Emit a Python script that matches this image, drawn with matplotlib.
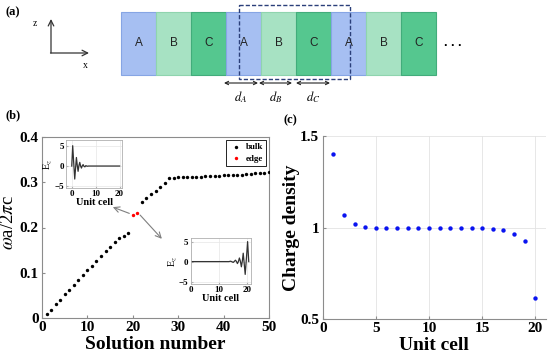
import matplotlib
matplotlib.use("Agg")
import matplotlib.pyplot as plt
from matplotlib.patches import Rectangle

plt.rcParams['font.family'] = ['Liberation Serif', 'DejaVu Serif']
plt.rcParams['mathtext.fontset'] = 'stix'

# ---------------- data ----------------
layers = ['A', 'B', 'C', 'A', 'B', 'C', 'A', 'B', 'C']
layer_colors = {'A': '#a6bff2', 'B': '#a7e2c3', 'C': '#55c78f'}
layer_edges = {'A': '#86a5e4', 'B': '#8fd4ae', 'C': '#42ac7b'}

bulk_n = list(range(1, 20)) + list(range(22, 51))
bulk_w = [0.009, 0.018, 0.030, 0.040, 0.052, 0.062, 0.074, 0.083, 0.095, 0.105,
          0.116, 0.127, 0.137, 0.147, 0.157, 0.167, 0.176, 0.182, 0.187,
          0.257, 0.265, 0.273, 0.281, 0.289, 0.299, 0.309,
          0.310, 0.3105, 0.311, 0.3113, 0.3116, 0.312, 0.3125, 0.313, 0.3135, 0.314,
          0.3145, 0.315, 0.3155, 0.316, 0.3165, 0.317, 0.3178, 0.3185, 0.3195,
          0.3205, 0.3215, 0.3225]
edge_n = [20, 21]
edge_w = [0.227, 0.233]

field1_x = [0, 0.4, 0.8, 1.25, 1.6, 1.95, 2.3, 2.65, 3.0, 3.35, 3.7, 4.05, 4.4,
            4.75, 5.1, 5.5, 5.9, 6.4, 7.0, 20]
field1_y = [0, 5.0, 1.0, -3.2, -0.5, 2.1, 0.2, -1.3, 0.1, 0.9, 0.0, -0.5, 0.05,
            0.35, -0.05, -0.2, 0.1, -0.05, 0, 0]
field2_x = [0, 13.5, 14.1, 14.6, 15.0, 15.4, 15.8, 16.15, 16.5, 16.85, 17.2,
            17.55, 17.9, 18.25, 18.55, 18.9, 19.25, 19.7, 20.1, 20.5]
field2_y = [0, 0, 0.1, -0.05, -0.2, 0.05, 0.35, 0.05, -0.5, 0.0, 0.9, 0.1,
            -1.3, 0.2, 2.1, -0.5, -3.2, 1.0, 5.0, 0]

cell = list(range(1, 21))
charge = [1.400, 1.067, 1.018, 1.004, 0.999, 0.998, 0.998, 0.998, 0.998, 0.998,
          0.998, 0.998, 0.998, 0.997, 0.995, 0.992, 0.985, 0.966, 0.926, 0.616]

W, H = 550, 362
fig = plt.figure(figsize=(5.5, 3.62), dpi=100)

# ---------------- panel (a): schematic ----------------
axa = fig.add_axes([0, 0, 1, 1], zorder=0)
axa.set_xlim(0, W)
axa.set_ylim(H, 0)
axa.axis('off')

x0, bw, y0, bh = 121, 35, 12, 63
for i, lab in enumerate(layers):
    axa.add_patch(Rectangle((x0 + i * bw, y0), bw, bh, facecolor=layer_colors[lab],
                            edgecolor=layer_edges[lab], lw=0.8))
    axa.text(x0 + i * bw + bw / 2, y0 + bh / 2, lab, ha='center', va='center',
             fontsize=8.5, family='Liberation Sans', color='#222222')
axa.text(x0 + 9 * bw + 17, y0 + bh / 2 - 1, '. . .', ha='center', va='center',
         fontsize=9, fontweight='bold', family='Liberation Sans')
axa.add_patch(Rectangle((239, 5), 111, 74, facecolor='none', edgecolor='#2b3f7a',
                        lw=1.0, ls=(0, (3, 1.5))))

axa.annotate('', xy=(51, 19), xytext=(51, 53),
             arrowprops=dict(arrowstyle='->', lw=0.9, color='#333333', shrinkA=0, shrinkB=0))
axa.annotate('', xy=(89, 53), xytext=(50.5, 53),
             arrowprops=dict(arrowstyle='->', lw=0.9, color='#333333', shrinkA=0, shrinkB=0))
axa.text(35, 24, 'z', fontsize=7, ha='center', va='center')
axa.text(85, 65, 'x', fontsize=7, ha='center', va='center')

for xa, xb, lab in [(224, 258, r'$d_A$'), (259, 292, r'$d_B$'), (296, 330, r'$d_C$')]:
    axa.annotate('', xy=(xb, 83), xytext=(xa, 83),
                 arrowprops=dict(arrowstyle='<->', lw=0.8, color='#222222',
                                 shrinkA=0, shrinkB=0, mutation_scale=6))
    axa.text((xa + xb) / 2, 97, lab, fontsize=9, ha='center', va='center')

fig.text(5 / W, 1 - 12 / H, '(a)', fontsize=9, fontweight='bold', va='center')
fig.text(5 / W, 1 - 115 / H, '(b)', fontsize=9, fontweight='bold', va='center')
fig.text(283 / W, 1 - 120 / H, '(c)', fontsize=9, fontweight='bold', va='center')

spine_gray = '#8c8c8c'

# ---------------- panel (b) ----------------
axb = fig.add_axes([42 / W, 1 - 318 / H, 227 / W, 181 / H])
axb.scatter(bulk_n, bulk_w, s=6, color='black', linewidths=0, label='bulk', zorder=3)
axb.scatter(edge_n, edge_w, s=6, color='red', linewidths=0, label='edge', zorder=3)
axb.set_xlim(0, 50)
axb.set_ylim(0, 0.4)
axb.set_xticks([0, 10, 20, 30, 40, 50])
axb.set_yticks([0, 0.1, 0.2, 0.3, 0.4])
axb.set_yticklabels(['0', '0.1', '0.2', '0.3', '0.4'])
for s in axb.spines.values():
    s.set_color(spine_gray)
    s.set_linewidth(0.8)
axb.tick_params(direction='in', length=2.5, color=spine_gray, labelsize=11, pad=2.5,
                top=False, right=False)
for t in axb.get_xticklabels() + axb.get_yticklabels():
    t.set_fontweight('bold')
axb.set_xlabel('Solution number', fontsize=14, fontweight='bold', labelpad=1)
axb.set_ylabel(r'$\omega$a/2$\pi$c', fontsize=13.5)
axb.yaxis.set_label_coords(-0.11, 0.53)
leg = axb.legend(loc='upper right', prop={'weight': 'bold', 'size': 6.5},
                 handletextpad=0.4, borderpad=0.35, labelspacing=0.35, markerscale=1.0,
                 fancybox=False, edgecolor='black', framealpha=1, handlelength=1.4,
                 borderaxespad=0.3)
leg.get_frame().set_linewidth(0.6)

axb.annotate('', xy=(15.6, 0.245), xytext=(19.8, 0.229),
             arrowprops=dict(arrowstyle='->', color='#7f7f7f', lw=0.8, shrinkA=2, shrinkB=0))
axb.annotate('', xy=(26.4, 0.175), xytext=(21.2, 0.232),
             arrowprops=dict(arrowstyle='->', color='#7f7f7f', lw=0.8, shrinkA=2, shrinkB=0))


def style_inset(ax, xlim, ylim):
    ax.set_xlim(*xlim)
    ax.set_ylim(*ylim)
    ax.set_xticks([0, 10, 20])
    ax.set_yticks([-5, 0, 5])
    ax.grid(True, color='#e6e6e6', lw=0.5)
    ax.set_axisbelow(True)
    for s in ax.spines.values():
        s.set_color('#b0b0b0')
        s.set_linewidth(0.6)
    ax.tick_params(direction='in', length=1.5, color='#b0b0b0', labelsize=6.5, pad=1.5)
    for t in ax.get_xticklabels() + ax.get_yticklabels():
        t.set_fontweight('bold')
    ax.set_xlabel('Unit cell', fontsize=7.5, fontweight='bold', labelpad=0)
    ax.set_ylabel(r'E$_z$', fontsize=7.5, labelpad=0)


ins1 = fig.add_axes([66 / W, 1 - 188 / H, 56 / W, 48 / H])
ins1.plot(field1_x, field1_y, color='#333333', lw=0.9)
style_inset(ins1, (-2.4, 21), (-5.4, 6.4))

ins2 = fig.add_axes([190.7 / W, 1 - 284 / H, 60.3 / W, 46 / H])
ins2.plot(field2_x, field2_y, color='#333333', lw=0.9)
style_inset(ins2, (0, 21.3), (-5.6, 5.9))

# ---------------- panel (c) ----------------
axc = fig.add_axes([322.7 / W, 1 - 319 / H, 223.3 / W, 183 / H])
axc.scatter(cell, charge, s=10, color='#0a14f0', linewidths=0, zorder=3)
axc.set_xlim(0, 21)
axc.set_ylim(0.5, 1.5)
axc.set_xticks([0, 5, 10, 15, 20])
axc.set_yticks([0.5, 1, 1.5])
axc.set_yticklabels(['0.5', '1', '1.5'])
axc.grid(True, color='#e3e3e3', lw=0.6)
axc.set_axisbelow(True)
axc.spines['top'].set_visible(False)
axc.spines['right'].set_visible(False)
for s in ('left', 'bottom'):
    axc.spines[s].set_color(spine_gray)
    axc.spines[s].set_linewidth(0.8)
axc.tick_params(direction='in', length=2.5, color=spine_gray, labelsize=11, pad=2.5)
for t in axc.get_xticklabels() + axc.get_yticklabels():
    t.set_fontweight('bold')
axc.set_xlabel('Unit cell', fontsize=14, fontweight='bold', labelpad=1)
axc.set_ylabel('Charge density', fontsize=14, fontweight='bold')
axc.yaxis.set_label_coords(-0.10, 0.5)

fig.savefig('out.png', dpi=100)
